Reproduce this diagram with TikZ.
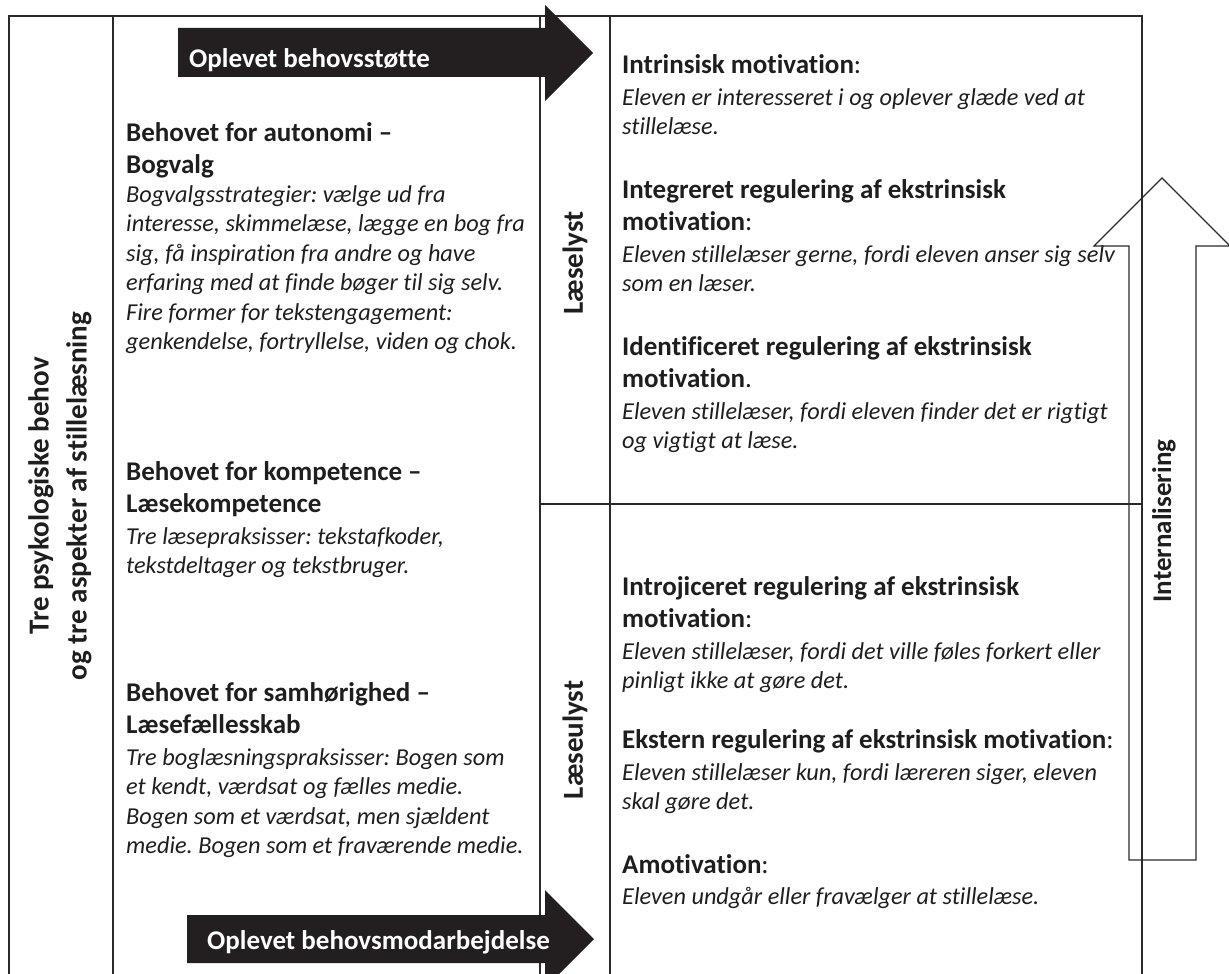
\documentclass[tikz,border=0pt]{standalone}
\usepackage{fontspec}
\setmainfont{Carlito}[Ligatures=NoCommon]
\usepackage{xcolor}
\definecolor{grid-black}{HTML}{2A2A2A}
\definecolor{arrow-black}{HTML}{231F20}
\definecolor{text-black}{HTML}{1E1E1E}
\usepackage{tikz}
\frenchspacing

\tikzset{
    heading/.style={anchor=north west, inner sep=0pt, align=left, text=text-black, font=\fontsize{27}{32.5}\selectfont\bfseries},
    desc/.style={anchor=north west, inner sep=0pt, align=left, text=text-black, font=\fontsize{24.3}{29.5}\selectfont\itshape},
    sidelabel/.style={rotate=90, inner sep=0pt, align=center, text=text-black, font=\fontsize{29}{38}\selectfont\bfseries},
    arrowtext/.style={anchor=base west, inner sep=0pt, text=white, font=\fontsize{27}{32}\selectfont\bfseries},
    gridline/.style={draw=grid-black, line width=1.3pt}
}

\begin{document}
\begin{tikzpicture}[x=1pt, y=-1pt]

    % Page
    \useasboundingbox (0, 0) rectangle (1229, 974);

    % Table
    \draw[gridline] (9, 974) -- (9, 16) -- (1142, 16) -- (1142, 974);
    \draw[gridline] (113, 16) -- (113, 974);
    \draw[gridline] (540, 16) -- (540, 974);
    \draw[gridline] (610, 16) -- (610, 974);
    \draw[gridline] (540, 504) -- (1142, 504);

    % Side labels
    \node[sidelabel] (behov) at (60, 496) {Tre psykologiske behov\\og tre aspekter af stillelæsning};
    \node[sidelabel] (lyst) at (575, 263) {Læselyst};
    \node[sidelabel] (ulyst) at (575, 740) {Læseulyst};

    % Needs
    \node[heading] (autonomi) at (126, 122) {Behovet for autonomi –\\Bogvalg};
    \node[desc] (autonomitxt) at (126, 185) {Bogvalgsstrategier: vælge ud fra\\interesse, skimmelæse, lægge en bog fra\\sig, få inspiration fra andre og have\\erfaring med at finde bøger til sig selv.\\Fire former for tekstengagement:\\genkendelse, fortryllelse, viden og chok.};

    \node[heading] (kompetence) at (126, 461) {Behovet for kompetence –\\Læsekompetence};
    \node[desc] (kompetencetxt) at (126, 527) {Tre læsepraksisser: tekstafkoder,\\tekstdeltager og tekstbruger.};

    \node[heading] (samhorighed) at (126, 682) {Behovet for samhørighed –\\Læsefællesskab};
    \node[desc] (samhorighedtxt) at (126, 748) {Tre boglæsningspraksisser: Bogen som\\et kendt, værdsat og fælles medie.\\Bogen som et værdsat, men sjældent\\medie. Bogen som et fraværende medie.};

    % Motivation
    \node[heading] (intrinsisk) at (622, 54) {Intrinsisk motivation\textmd{:}};
    \node[desc] (intrinsisktxt) at (622, 88) {Eleven er interesseret i og oplever glæde ved at\\stillelæse.};

    \node[heading] (integreret) at (622, 179) {Integreret regulering af ekstrinsisk\\motivation\textmd{:}};
    \node[desc] (integrerettxt) at (622, 245) {Eleven stillelæser gerne, fordi eleven anser sig selv\\som en læser.};

    \node[heading] (identificeret) at (622, 336) {Identificeret regulering af ekstrinsisk\\motivation\textmd{.}};
    \node[desc] (identificerettxt) at (622, 402) {Eleven stillelæser, fordi eleven finder det er rigtigt\\og vigtigt at læse.};

    \node[heading] (introjiceret) at (622, 576) {Introjiceret regulering af ekstrinsisk\\motivation\textmd{:}};
    \node[desc] (introjicerettxt) at (622, 642) {Eleven stillelæser, fordi det ville føles forkert eller\\pinligt ikke at gøre det.};

    \node[heading] (ekstern) at (622, 729) {Ekstern regulering af ekstrinsisk motivation\textmd{:}};
    \node[desc] (eksterntxt) at (622, 763) {Eleven stillelæser kun, fordi læreren siger, eleven\\skal gøre det.};

    \node[heading] (amotivation) at (622, 854) {Amotivation\textmd{:}};
    \node[desc] (amotivationtxt) at (622, 887) {Eleven undgår eller fravælger at stillelæse.};

    % Support arrow
    \fill[arrow-black] (178, 28) -- (545, 28) -- (545, 5) -- (593, 53) -- (545, 101) -- (545, 77) -- (178, 77) -- cycle;
    \node[arrowtext] (stotte) at (189, 68) {Oplevet behovsstøtte};

    % Thwarting arrow
    \fill[arrow-black] (187, 915) -- (545, 915) -- (545, 890) -- (594, 939) -- (545, 988) -- (545, 963) -- (187, 963) -- cycle;
    \node[arrowtext] (modarbejdelse) at (207, 949) {Oplevet behovsmodarbejdelse};

    % Internalisation arrow
    \draw[gridline, line width=1.2pt] (1129, 860) -- (1129, 246) -- (1094, 246) -- (1162, 178) -- (1230, 246) -- (1196, 246) -- (1196, 860) -- cycle;
    \node[sidelabel, font=\fontsize{27}{32}\selectfont\bfseries] (internalisering) at (1164, 521) {Internalisering};

\end{tikzpicture}
\end{document}
